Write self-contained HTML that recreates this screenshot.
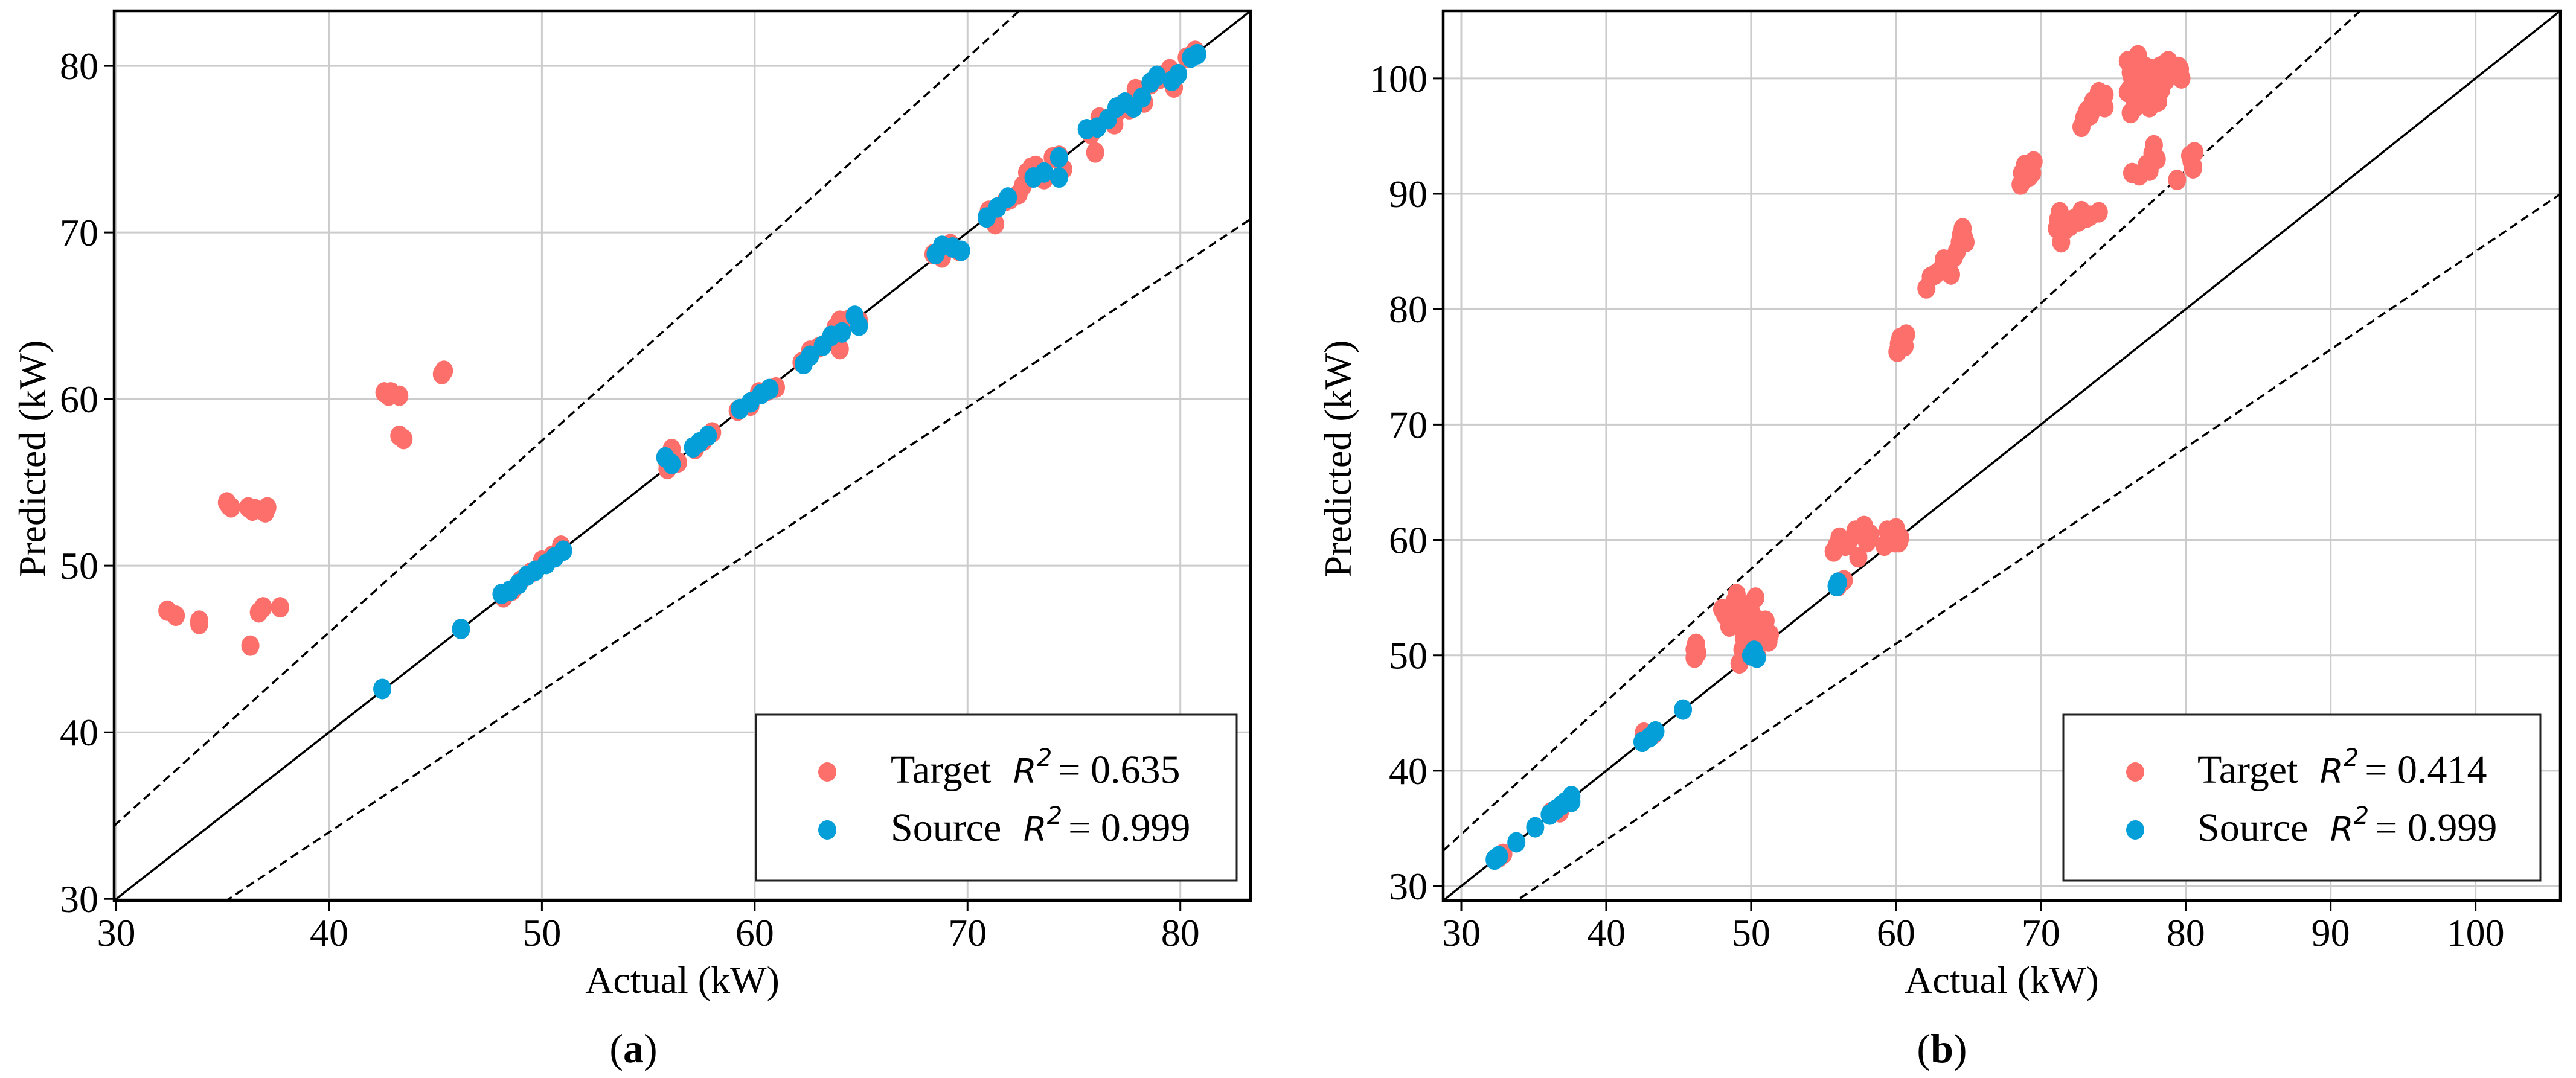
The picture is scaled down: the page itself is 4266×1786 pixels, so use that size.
<!DOCTYPE html>
<html><head><meta charset="utf-8">
<style>
html,body{margin:0;padding:0;background:#fff;}
svg{display:block;}
text{font-family:"Liberation Serif","DejaVu Serif",serif;fill:#000;}
.r2{font-family:"DejaVu Sans","Liberation Sans",sans-serif;font-style:italic;}
</style></head>
<body>
<svg id="fig" width="4266" height="1786" viewBox="0 0 4266 1786" xmlns="http://www.w3.org/2000/svg"></svg>
<script>
// ---------- Panel (a) data ----------
const aTargetActual = [32.4,32.8,33.9,33.9,35.2,35.3,36.2,36.5,36.9,37.1,36.3,36.7,36.9,37.7,42.6,42.9,43.3,43.3,43.5,45.3,45.4,
 46.2,48.2,48.6,49.0,49.5,50.0,50.5,50.9,55.8,55.9,56.1,56.4,57.2,57.6,58.0,59.2,59.8,60.2,60.6,61.0,62.2,62.6,63.0,63.5,64.0,64.0,64.5,64.9,
 68.4,68.8,69.2,69.6,71.0,71.3,71.8,72.4,72.8,73.2,73.6,74.0,74.5,75.8,76.0,76.4,76.9,77.2,77.6,78.0,78.3,78.6,79.0,79.5,79.7,80.3,80.7,
 35.4,36.4,37.0,42.8,55.9,63.8,73.0,74.3,76.2,77.0,77.9,79.3,80.5,72.0,72.6];
const aTargetPred = [47.3,47.0,46.7,46.5,53.8,53.6,53.5,53.4,53.3,53.5,45.2,47.2,47.5,47.5,60.4,60.4,60.2,57.8,57.6,61.5,61.7,
 46.2,48.1,48.5,49.1,49.6,50.3,50.6,51.2,56.5,55.8,57.0,56.2,57.0,57.5,58.0,59.3,59.6,60.4,60.5,60.7,62.2,62.9,63.1,63.5,64.7,63.0,64.8,64.7,
 68.7,68.5,69.3,68.9,71.3,70.5,71.9,72.3,73.6,74.0,73.2,74.5,73.8,75.9,74.8,76.8,76.5,77.6,77.4,78.3,77.8,78.9,79.2,79.8,78.7,80.5,80.9,
 53.5,53.3,53.2,60.2,56.1,64.3,73.9,74.6,76.9,77.2,78.6,79.5,80.6,72.0,72.8];
const aSourceActual = [42.5,46.2,48.1,48.5,48.9,49.3,49.7,50.2,50.6,51.0,55.8,56.1,57.1,57.4,57.8,59.3,59.8,60.3,60.7,62.3,62.6,63.2,63.6,64.1,64.7,64.9,
 68.5,68.8,69.3,69.7,70.9,71.4,71.9,73.1,73.6,74.3,74.3,75.6,76.1,76.6,77.0,77.4,77.8,78.2,78.6,78.9,79.6,79.9,80.5,80.8];
const aSourcePred = [42.6,46.2,48.3,48.5,48.9,49.4,49.7,50.1,50.5,50.9,56.5,56.1,57.1,57.4,57.8,59.4,59.8,60.3,60.6,62.1,62.6,63.2,63.8,64.0,65.0,64.4,
 68.7,69.2,69.1,68.9,70.9,71.5,72.1,73.3,73.6,74.5,73.3,76.2,76.3,76.8,77.5,77.8,77.5,78.1,79.0,79.4,79.1,79.5,80.5,80.7];
const aTicks = [30,40,50,60,70,80];

// ---------- Panel (b) data ----------
const bTargetActual = [76.0,76.3,76.5,77.0,77.2,77.5,78.0,78.3,78.5,79.0,79.5,79.7,76.2,76.7,76.1,76.8,77.8,78.8,
 76.0,76.4,76.9,77.3,77.6,78.1,78.6,79.2,79.6,76.2,76.6,77.1,77.6,78.2,76.5,77.0,
 72.8,73.2,73.6,74.0,74.4,74.4,73.0,73.4,73.8,74.2,
 76.3,76.8,77.3,77.7,77.8,78.0,77.5,79.4,80.3,80.5,80.6,80.4,80.5,
 68.6,68.9,69.2,69.5,68.8,69.0,69.4,68.7,
 71.1,71.3,71.4,71.8,72.3,72.8,73.4,74.0,72.0,71.2,71.6,72.6,73.1,
 62.1,62.4,63.0,63.5,63.8,64.2,64.5,64.8,64.6,62.7,63.3,64.0,64.4,64.7,
 60.1,60.3,60.7,60.5,60.2,60.6,
 55.7,56.1,56.5,57.2,57.4,57.8,58.2,59.2,59.6,60.0,60.2,56.0,56.4,55.9,56.8,57.6,58.0,59.4,59.9,60.3,
 48.2,48.5,48.8,49.0,49.3,49.5,49.2,50.0,50.3,50.7,51.0,50.4,51.2,50.3,
 48.0,48.4,48.7,49.1,49.6,49.8,50.1,50.5,50.9,51.3,49.4,48.9,49.7,
 46.1,46.2,46.1,46.3,42.6,43.0,43.3,36.2,36.8,32.6,32.9];
const bTargetPred = [101.5,100.0,98.0,99.5,101.0,97.5,100.5,99.0,101.2,100.3,101.0,100.0,97.0,102.0,99.0,100.8,98.5,101.5,
 98.8,99.0,98.2,98.4,99.2,98.0,99.8,100.6,100.8,100.5,101.2,100.2,100.8,101.0,97.5,100.8,
 95.8,97.2,98.0,98.8,97.5,98.6,96.6,96.8,97.5,98.0,
 91.8,91.6,92.5,93.5,94.2,93.0,92.0,91.2,93.3,92.2,93.6,92.8,92.4,
 90.8,92.5,91.5,92.8,91.2,92.0,91.8,91.8,
 87.0,88.4,85.8,87.5,87.8,88.5,88.1,88.4,87.2,87.8,86.8,87.6,87.9,
 81.8,82.8,83.3,84.0,83.0,85.0,86.5,85.8,87.0,83.0,84.3,84.5,85.8,86.2,
 76.3,77.5,77.8,76.8,77.0,76.8,
 59.0,60.2,59.5,60.8,58.5,61.2,60.5,59.5,60.3,61.0,59.8,56.0,56.5,59.5,60.0,60.8,59.8,60.8,59.8,60.2,
 53.5,52.5,54.5,55.3,53.2,51.5,49.3,54.5,52.5,51.8,53.0,50.0,51.2,55.0,
 54.0,53.8,52.8,53.5,52.2,50.8,53.5,52.0,52.6,51.8,50.5,54.8,53.6,
 50.5,51.0,49.8,50.2,43.3,43.0,43.2,36.4,36.4,32.5,32.8];
const bSourceActual = [32.3,32.6,33.8,35.1,36.1,36.5,36.9,37.2,37.6,37.6,42.5,43.0,43.4,45.3,50.0,50.2,50.4,56.0,55.9];
const bSourcePred = [32.3,32.6,33.8,35.1,36.2,36.6,37.0,37.3,37.8,37.3,42.5,42.9,43.4,45.3,50.0,50.4,49.8,56.3,56.0];
const bTicks = [30,40,50,60,70,80,90,100];

const NS = 'http://www.w3.org/2000/svg';
const fig = document.getElementById('fig');
function mk(tag, attrs, parent){
  const e = document.createElementNS(NS, tag);
  for (const k in attrs) e.setAttribute(k, attrs[k]);
  (parent||fig).appendChild(e);
  return e;
}
const TCOL = '#fd6f6a', SCOL = '#049fd8';

function panel(p){
  const g = mk('g', {});
  
  
  const sx = v => p.x0 + (v - p.min) / (p.max - p.min) * (p.x1 - p.x0);
  const sy = v => p.y1 - (v - p.min) / (p.max - p.min) * (p.y1 - p.y0);
  const clip = 'clip-' + p.name;
  const cp = mk('clipPath', {id: clip}, g);
  mk('rect', {x:p.x0, y:p.y0, width:p.x1-p.x0, height:p.y1-p.y0}, cp);
  p.ticks.forEach(t => {
    const gx = mk('line', {x1:sx(t), x2:sx(t), y1:p.y0, y2:p.y1, stroke:'#cccccc', 'stroke-width':3}, g);
    
    
    const gy = mk('line', {x1:p.x0, x2:p.x1, y1:sy(t), y2:sy(t), stroke:'#cccccc', 'stroke-width':3}, g);
    
    
  });
  const lg = mk('g', {'clip-path':'url(#'+clip+')'}, g);
  const l1 = mk('line', {x1:sx(p.min), y1:sy(p.min), x2:sx(p.max), y2:sy(p.max), stroke:'#000', 'stroke-width':3.5}, lg);
  
  
  const l2 = mk('line', {x1:sx(p.min), y1:sy(p.min*1.15), x2:sx(p.max), y2:sy(p.max*1.15), stroke:'#000', 'stroke-width':3.5, 'stroke-dasharray':'14 8'}, lg);
  
  
  const l3 = mk('line', {x1:sx(p.min), y1:sy(p.min*0.85), x2:sx(p.max), y2:sy(p.max*0.85), stroke:'#000', 'stroke-width':3.5, 'stroke-dasharray':'14 8'}, lg);
  
  
  p.tA.forEach((a,i) => {
    const c = mk('ellipse', {cx:sx(a), cy:sy(p.tP[i]), rx:15, ry:17, fill:TCOL}, lg);
    
    
  });
  p.sA.forEach((a,i) => {
    const c = mk('ellipse', {cx:sx(a), cy:sy(p.sP[i]), rx:15, ry:17, fill:SCOL}, lg);
    
    
  });
  p.ticks.forEach(t => {
    mk('line', {x1:sx(t), x2:sx(t), y1:p.y1, y2:p.y1+17, stroke:'#000', 'stroke-width':3}, g);
    const tx = mk('text', {x:sx(t), y:p.y1+75, 'font-size':64, 'text-anchor':'middle'}, g);
    tx.textContent = t;
    
    
    mk('line', {x1:p.x0-17, x2:p.x0, y1:sy(t), y2:sy(t), stroke:'#000', 'stroke-width':3}, g);
    const ty = mk('text', {x:p.x0-26, y:sy(t)+22, 'font-size':64, 'text-anchor':'end'}, g);
    ty.textContent = t;
    
    
  });
  const fr = mk('rect', {x:p.x0, y:p.y0, width:p.x1-p.x0, height:p.y1-p.y0, fill:'none', stroke:'#000', 'stroke-width':4.5}, g);
  
  
  const xt = mk('text', {x:(p.x0+p.x1)/2, y:1645, 'font-size':64, 'text-anchor':'middle'}, g);
  xt.textContent = 'Actual (kW)';
  
  
  const yt = mk('text', {x:0, y:0, 'font-size':64, 'text-anchor':'middle', transform:'translate('+(p.ytx)+',760) rotate(-90)'}, g);
  yt.textContent = 'Predicted (kW)';
  
  
  const cap = mk('text', {x:p.capx, y:1760, 'font-size':68, 'text-anchor':'middle'}, g);
  cap.innerHTML = '(<tspan font-weight="bold">' + p.letter + '</tspan>)';
  
  
  const L = mk('g', {}, g);
  
  
  mk('rect', {x:p.lx0, y:1184, width:p.lx1-p.lx0, height:275, fill:'#fff', stroke:'#222', 'stroke-width':3}, L);
  const entries = [[TCOL,'Target',p.r2t,1279,1297],[SCOL,'Source',p.r2s,1375,1393]];
  entries.forEach(en => {
    const d = mk('ellipse', {cx:p.ldot, cy:en[3], rx:15, ry:16, fill:en[0]}, L);
    
    
    const t = mk('text', {x:p.ltext, y:en[4], 'font-size':66}, L);
    t.innerHTML = en[1] + '  <tspan class="r2" font-size="56" dx="20">R</tspan><tspan class="r2" font-size="40" dy="-28" font-style="normal">2</tspan><tspan dy="28" dx="10">= ' + en[2] + '</tspan>';
    
    
  });
}

panel({name:'panel-a', x0:189, x1:2071, y0:18, y1:1492, min:29.9, max:83.3, ticks:aTicks,
  tA:aTargetActual, tP:aTargetPred, sA:aSourceActual, sP:aSourcePred,
  ytx:75, capx:1049, letter:'a', lx0:1252, lx1:2048, ldot:1370, ltext:1475, r2t:'0.635', r2s:'0.999'});
panel({name:'panel-b', x0:2390, x1:4240, y0:18, y1:1492, min:28.75, max:105.85, ticks:bTicks,
  tA:bTargetActual, tP:bTargetPred, sA:bSourceActual, sP:bSourcePred,
  ytx:2237, capx:3216, letter:'b', lx0:3417, lx1:4207, ldot:3536, ltext:3639, r2t:'0.414', r2s:'0.999'});
</script>
</body></html>
